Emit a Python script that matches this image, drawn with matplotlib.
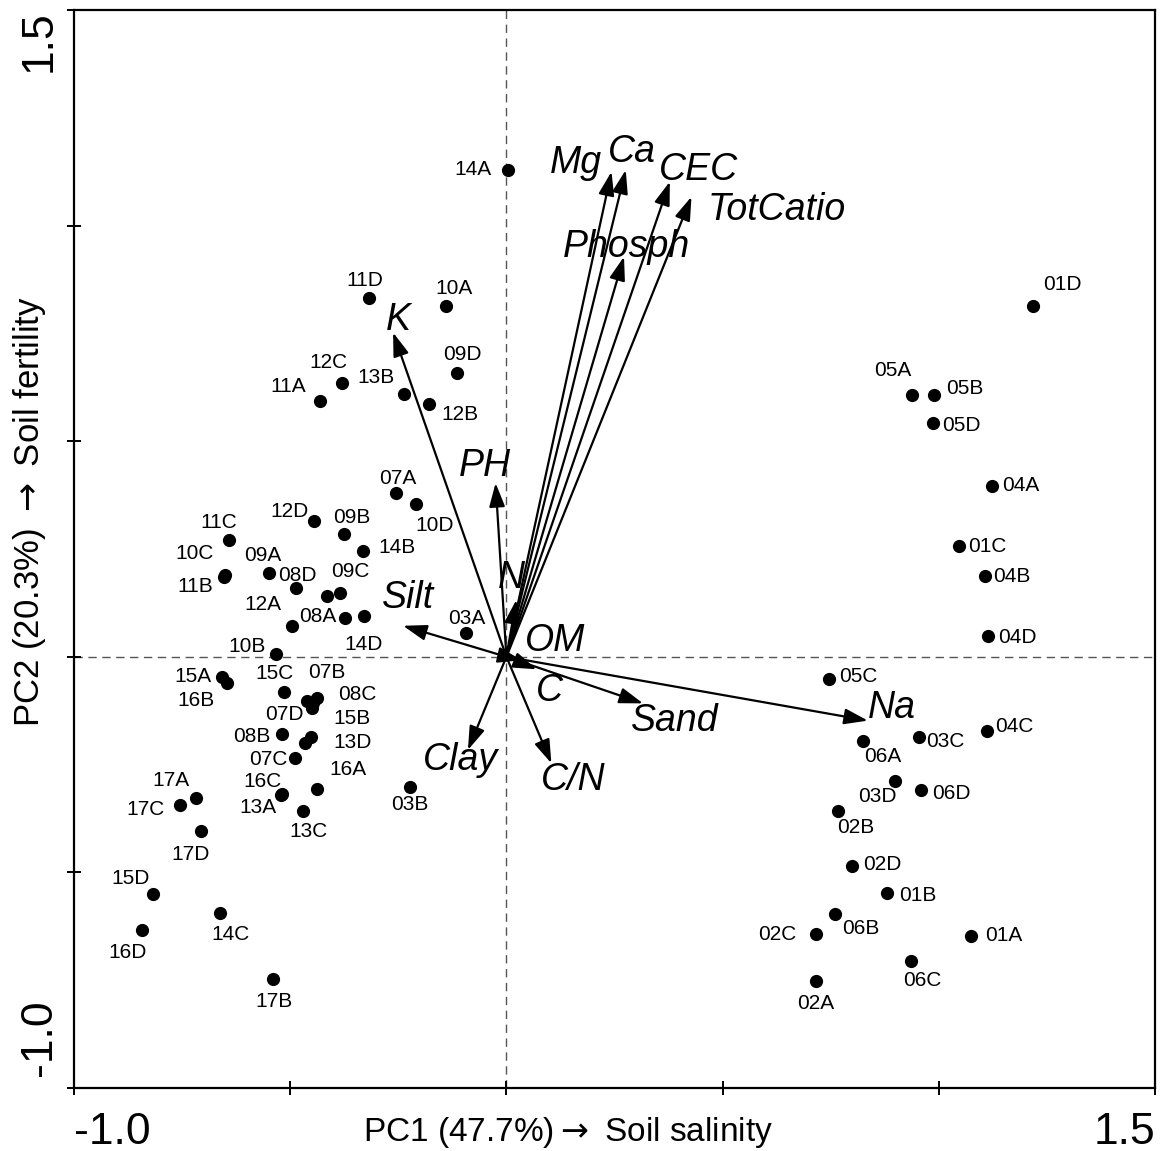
import matplotlib
matplotlib.use("Agg")
import matplotlib.pyplot as plt
from matplotlib.transforms import ScaledTranslation

plt.rcParams['font.family'] = ['Liberation Sans', 'DejaVu Sans']

# sample scores (PC1, PC2)
samples = ['01A', '01B', '01C', '01D', '02A', '02B', '02C', '02D',
           '03A', '03B', '03C', '03D', '04A', '04B', '04C', '04D',
           '05A', '05B', '05C', '05D', '06A', '06B', '06C', '06D',
           '07A', '07B', '07C', '07D', '08A', '08B', '08C', '08D',
           '09A', '09B', '09C', '09D', '10A', '10B', '10C', '10D',
           '11A', '11B', '11C', '11D', '12A', '12B', '12C', '12D',
           '13A', '13B', '13C', '13D', '14A', '14B', '14C', '14D',
           '15A', '15B', '15C', '15D', '16A', '16B', '16C', '16D',
           '17A', '17B', '17C', '17D', '', '']
pc1 = [1.075, 0.880, 1.046, 1.218, 0.716, 0.768, 0.715, 0.799,
       -0.094, -0.223, 0.955, 0.899, 1.123, 1.108, 1.111, 1.114,
       0.937, 0.990, 0.746, 0.987, 0.825, 0.759, 0.935, 0.958,
       -0.255, -0.460, -0.490, -0.449, -0.373, -0.519, -0.438, -0.487,
       -0.549, -0.375, -0.385, -0.114, -0.139, -0.532, -0.650, -0.208,
       -0.430, -0.654, -0.641, -0.318, -0.496, -0.179, -0.380, -0.445,
       -0.520, -0.237, -0.471, -0.451, 0.004, -0.331, -0.662, -0.329,
       -0.657, -0.448, -0.515, -0.817, -0.437, -0.646, -0.522, -0.843,
       -0.719, -0.539, -0.755, -0.707, -0.415, -0.465]
pc2 = [-0.647, -0.548, 0.258, 0.814, -0.752, -0.358, -0.643, -0.484,
       0.055, -0.301, -0.187, -0.288, 0.396, 0.188, -0.172, 0.048,
       0.608, 0.608, -0.051, 0.542, -0.195, -0.596, -0.706, -0.308,
       0.379, -0.102, -0.235, -0.119, 0.091, -0.179, -0.095, 0.159,
       0.195, 0.284, 0.149, 0.659, 0.814, 0.006, 0.190, 0.354,
       0.594, 0.186, 0.271, 0.833, 0.072, 0.587, 0.635, 0.314,
       -0.318, 0.610, -0.357, -0.186, 1.128, 0.246, -0.593, 0.095,
       -0.046, -0.107, -0.081, -0.550, -0.307, -0.061, -0.320, -0.633,
       -0.328, -0.748, -0.343, -0.403, 0.142, -0.200]

# label placement (pixels from the dot, y measured downwards)
label_offsets = {
    '01A': (33, 0), '01B': (31, 2), '01C': (29, 1), '01D': (29, -21),
    '02A': (0, 22), '02B': (17, 16), '02C': (-38, 0), '02D': (30, -1),
    '03A': (1, -15), '03B': (0, 18), '03C': (26, 4), '03D': (-18, 16),
    '04A': (29, -1), '04B': (26, 1), '04C': (28, -4), '04D': (29, 1),
    '05A': (-19, -24), '05B': (30, -6), '05C': (29, -2), '05D': (28, 2),
    '06A': (20, 16), '06B': (26, 15), '06C': (12, 19), '06D': (31, 4),
    '07A': (2, -15), '07B': (19, -28), '07C': (-26, 1), '07D': (-28, 6),
    '08A': (-27, -1), '08B': (-30, 3), '08C': (40, -3), '08D': (2, -13),
    '09A': (-6, -17), '09B': (8, -17), '09C': (10, -21), '09D': (5, -18),
    '10A': (8, -17), '10B': (-29, -8), '10C': (-31, -21), '10D': (18, 21),
    '11A': (-32, -14), '11B': (-28, 10), '11C': (-10, -17), '11D': (-4, -17),
    '12A': (-29, -21), '12B': (31, 11), '12C': (-14, -20), '12D': (-24, -10),
    '13A': (-24, 14), '13B': (-28, -16), '13C': (6, 21), '13D': (41, 5),
    '14A': (-35, -1), '14B': (34, -3), '14C': (10, 22), '14D': (-1, 29),
    '15A': (-29, 0), '15B': (39, 16), '15C': (-9, -18), '15D': (-23, -15),
    '16A': (30, -20), '16B': (-31, 17), '16C': (-18, -13), '16D': (-14, 23),
    '17A': (-25, -18), '17B': (1, 22), '17C': (-34, 5), '17D': (-10, 24),
}

# variable loadings (arrow tips)
variables = ['Mg', 'Ca', 'CEC', 'TotCatio', 'Phosph', 'K', 'PH', 'Silt',
             'N', 'OM', 'C', 'Sand', 'Na', 'Clay', 'C/N']
var_pc1 = [0.243, 0.276, 0.378, 0.428, 0.272, -0.262, -0.025, -0.239,
           0.023, 0.035, 0.070, 0.316, 0.836, -0.089, 0.104]
var_pc2 = [1.125, 1.129, 1.102, 1.067, 0.928, 0.752, 0.403, 0.072,
           0.132, -0.008, -0.029, -0.108, -0.148, -0.216, -0.247]
var_offsets = {
    'Mg': (-36, -9), 'Ca': (6, -18), 'CEC': (29, -12), 'TotCatio': (85, 13),
    'Phosph': (2, -10), 'K': (5, -13), 'PH': (-11, -17), 'Silt': (5, -28),
    'N': (-5, -22), 'OM': (34, -19), 'C': (13, 22), 'Sand': (32, 18),
    'Na': (24, -13), 'Clay': (-7, 10), 'C/N': (22, 17),
}

fig = plt.figure(figsize=(11.61, 11.51), dpi=100)
ax = fig.add_axes([74 / 1161, 1 - 1088 / 1151, 1081 / 1161, 1078 / 1151])

ax.axhline(0, color='#555555', lw=1, dashes=(6, 4), zorder=1)
ax.axvline(0, color='#555555', lw=1, dashes=(6, 4), zorder=1)

ax.scatter(pc1, pc2, s=72, color='black', zorder=3)
for name, x, y in zip(samples, pc1, pc2):
    if not name:
        continue
    dx, dy = label_offsets[name]
    ax.annotate(name, (x, y), xytext=(dx, -dy), textcoords='offset pixels',
                ha='center', va='center', fontsize=15, zorder=4)

for name, x, y in zip(variables, var_pc1, var_pc2):
    ax.annotate('', xy=(x, y), xytext=(0, 0),
                arrowprops=dict(arrowstyle='-|>,head_length=0.9,head_width=0.3',
                                mutation_scale=16, lw=1.6, color='black',
                                shrinkA=0, shrinkB=0), zorder=2)
    dx, dy = var_offsets[name]
    ax.annotate(name, (x, y), xytext=(dx, -dy), textcoords='offset pixels',
                ha='center', va='center', fontsize=27, style='italic', zorder=4)

ax.set_xlim(-1.0, 1.5)
ax.set_ylim(-1.0, 1.5)
for sp in ax.spines.values():
    sp.set_linewidth(1.6)

ax.set_xticks([-1.0, -0.5, 0.0, 0.5, 1.0, 1.5])
ax.set_xticklabels(['-1.0', '', '', '', '', '1.5'])
ax.set_yticks([-1.0, -0.5, 0.0, 0.5, 1.0, 1.5])
ax.set_yticklabels(['-1.0', '', '', '', '', '1.5'], rotation=90)
ax.tick_params(direction='inout', length=10, width=1.4, labelsize=32)
ax.tick_params(axis='x', pad=12)
ax.tick_params(axis='y', pad=5)
xl = ax.get_xticklabels()
xl[0].set_ha('left')
xl[-1].set_ha('right')
yl = ax.get_yticklabels()
yl[0].set_va('bottom')
yl[0].set_transform(yl[0].get_transform() + ScaledTranslation(0, 0.12, fig.dpi_scale_trans))
yl[-1].set_va('top')

ax.set_xlabel('PC1 (47.7%)$\\rightarrow$ Soil salinity', fontsize=24)
ax.xaxis.set_label_coords(0.457, -0.025)
ax.xaxis.label.set_va('top')
ax.set_ylabel('PC2 (20.3%) $\\rightarrow$ Soil fertility', fontsize=25)
ax.yaxis.label.set_va('center')
ax.yaxis.set_label_coords(-0.041, 0.535)

fig.savefig('out.png', dpi=100)
